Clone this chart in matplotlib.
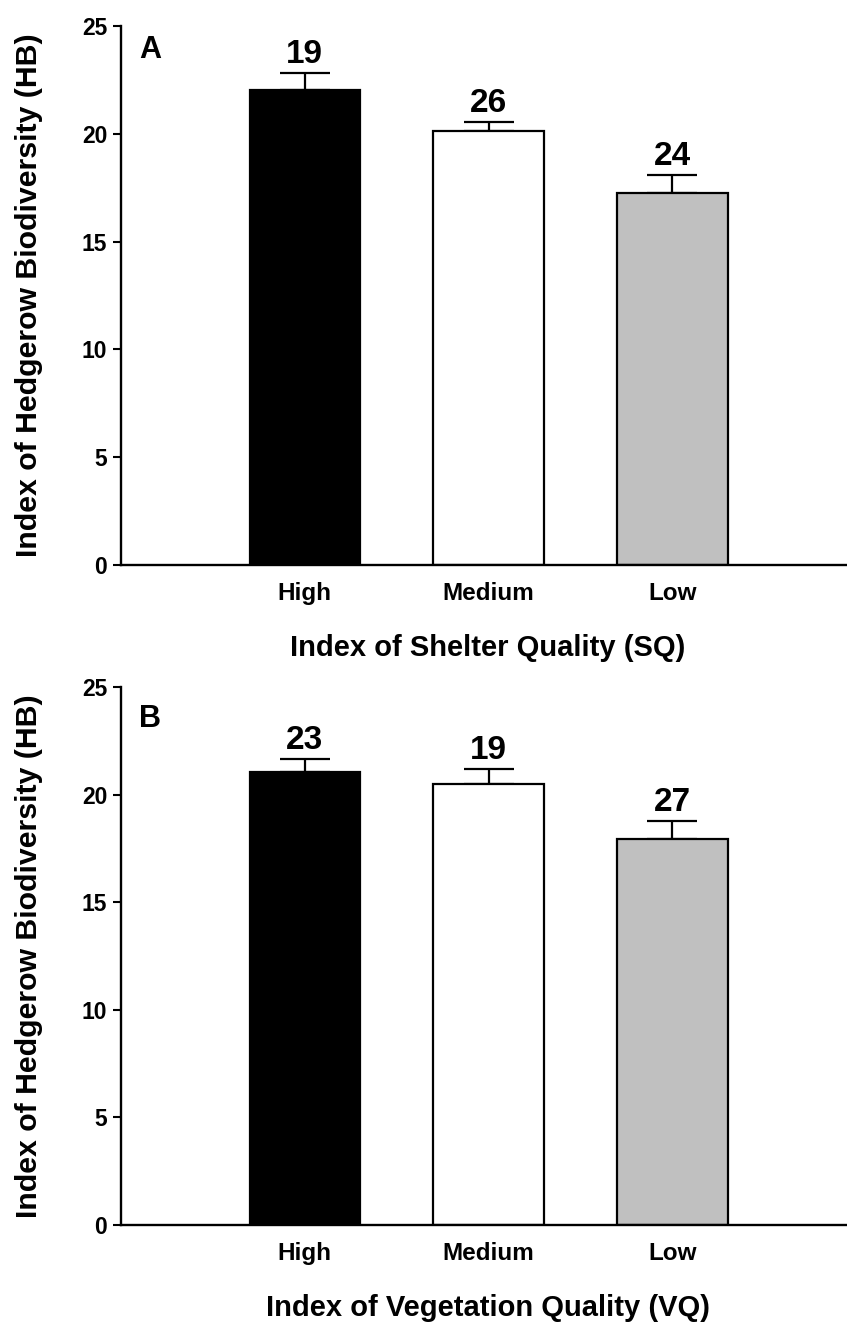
import matplotlib
matplotlib.use('Agg')
import matplotlib.pyplot as plt
import numpy as np

categories = ['High', 'Medium', 'Low']

# panel A: shelter quality
shelter_means = [22.03, 20.13, 17.25]
shelter_err = [0.79, 0.42, 0.84]
shelter_n = [19, 26, 24]

# panel B: vegetation quality
veg_means = [21.05, 20.49, 17.94]
veg_err = [0.60, 0.70, 0.84]
veg_n = [23, 19, 27]

bar_colors = ['black', 'white', '#c0c0c0']
y_ticks = [0, 5, 10, 15, 20, 25]

plt.rcParams['font.family'] = ['Liberation Sans', 'DejaVu Sans']
plt.rcParams['font.weight'] = 'bold'

fig = plt.figure(figsize=(8.47, 13.23), dpi=100)
ax_a = fig.add_axes([0.1429, 0.5729, 0.8571, 0.4074])
ax_b = fig.add_axes([0.1429, 0.0741, 0.8571, 0.4066])


def panel(ax, means, errs, ns, xlabel, letter, letter_y):
    x = np.arange(1, len(categories) + 1)
    ax.bar(x, means, width=0.6, color=bar_colors, edgecolor='black', linewidth=1.6, zorder=2)
    ax.errorbar(x, means, yerr=[np.zeros(len(errs)), errs], fmt='none', ecolor='black',
                elinewidth=1.6, capsize=18, capthick=1.6, zorder=1)
    for xi, m, e, n in zip(x, means, errs, ns):
        ax.annotate(str(n), (xi, m + e), xytext=(0, 7), textcoords='offset points',
                    ha='center', va='baseline', fontsize=24, fontweight='bold')

    ax.set_xlim(0, 3.95)
    ax.set_ylim(0, 25)
    ax.set_yticks(y_ticks)
    ax.set_xticks(x)
    ax.set_xticklabels(categories)
    ax.spines['top'].set_visible(False)
    ax.spines['right'].set_visible(False)
    ax.spines['left'].set_linewidth(1.7)
    ax.spines['bottom'].set_linewidth(1.7)
    ax.tick_params(axis='y', direction='out', length=6, width=1.5, labelsize=16.5, pad=4)
    ax.tick_params(axis='x', length=0, labelsize=17.5, pad=12)
    for lab in ax.get_xticklabels() + ax.get_yticklabels():
        lab.set_fontweight('bold')

    ax.set_xlabel(xlabel, fontsize=21, fontweight='bold')
    ax.xaxis.set_label_coords(0.505, -0.128)
    ax.set_ylabel('Index of Hedgerow Biodiversity (HB)', fontsize=21.8, fontweight='bold')
    ax.yaxis.set_label_coords(-0.108, 0.5)
    ax.text(0.025, letter_y, letter, transform=ax.transAxes, ha='left', va='baseline',
            fontsize=22, fontweight='bold')


panel(ax_a, shelter_means, shelter_err, shelter_n, 'Index of Shelter Quality (SQ)', 'A', 0.941)
panel(ax_b, veg_means, veg_err, veg_n, 'Index of Vegetation Quality (VQ)', 'B', 0.926)

fig.savefig('out.png', dpi=100)
